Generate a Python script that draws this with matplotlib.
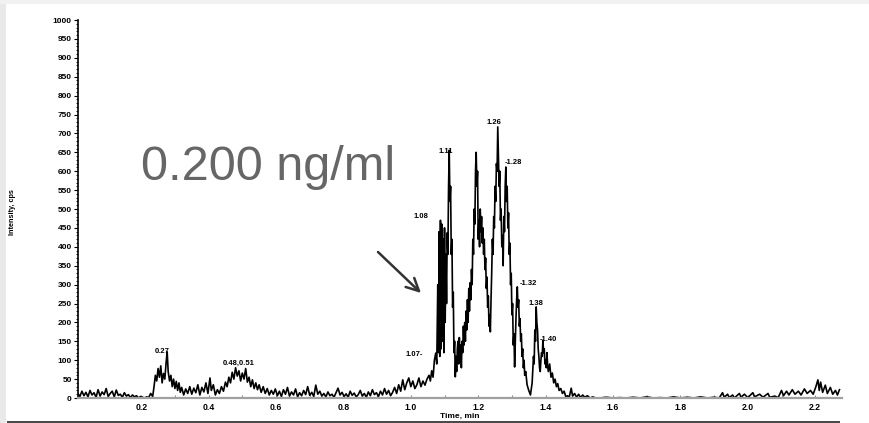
import matplotlib
matplotlib.use('Agg')
import matplotlib.pyplot as plt
from matplotlib.patches import Rectangle
from matplotlib.ticker import MultipleLocator

plt.rcParams['font.family'] = ['Liberation Sans', 'DejaVu Sans']

# ---- chromatogram data (time, min ; intensity, cps) ----
seg_start = [(0.012, 12), (0.018, 4), (0.024, 18), (0.030, 6), (0.036, 15), (0.042, 3),
             (0.048, 20), (0.054, 8), (0.060, 14), (0.066, 2), (0.072, 22), (0.078, 5),
             (0.084, 16), (0.090, 9), (0.096, 25), (0.102, 4), (0.108, 12), (0.114, 18),
             (0.120, 3), (0.126, 21), (0.132, 7), (0.138, 10), (0.144, 2), (0.150, 14),
             (0.156, 5), (0.162, 9), (0.168, 1), (0.174, 8), (0.180, 3), (0.186, 6),
             (0.192, 0), (0.198, 4), (0.204, 2), (0.210, 0), (0.216, 3), (0.222, 1),
             (0.228, 12), (0.234, 4)]
seg_027 = [(0.238, 30), (0.242, 60), (0.246, 45), (0.250, 78), (0.254, 55), (0.258, 85),
           (0.262, 40), (0.266, 65), (0.270, 50), (0.274, 95), (0.277, 122), (0.280, 70),
           (0.284, 45), (0.288, 60), (0.292, 30), (0.296, 50), (0.300, 25), (0.304, 44),
           (0.308, 20), (0.312, 40), (0.316, 15), (0.320, 28)]
seg_mid1 = [(0.326, 8), (0.332, 24), (0.338, 12), (0.344, 30), (0.350, 10), (0.356, 26),
            (0.362, 14), (0.368, 35), (0.374, 8), (0.380, 28), (0.386, 16), (0.392, 40),
            (0.398, 12), (0.404, 53), (0.408, 20), (0.414, 35), (0.420, 8), (0.426, 22),
            (0.432, 12), (0.438, 30), (0.444, 18), (0.450, 42)]
seg_048 = [(0.455, 30), (0.460, 55), (0.465, 40), (0.470, 68), (0.475, 50), (0.480, 80),
           (0.485, 58), (0.490, 72), (0.495, 45), (0.500, 66), (0.505, 50), (0.510, 78),
           (0.515, 42), (0.520, 55), (0.525, 30), (0.530, 48), (0.535, 25), (0.540, 40),
           (0.545, 22), (0.550, 35), (0.556, 15), (0.562, 30), (0.568, 12), (0.574, 25),
           (0.580, 8), (0.586, 20), (0.592, 10), (0.598, 24)]
seg_mid2 = [(0.604, 6), (0.610, 18), (0.616, 4), (0.622, 22), (0.628, 10), (0.634, 28),
            (0.640, 5), (0.646, 16), (0.652, 8), (0.658, 24), (0.664, 3), (0.670, 14),
            (0.676, 6), (0.682, 20), (0.688, 9), (0.694, 30), (0.700, 7), (0.706, 15),
            (0.712, 4), (0.718, 34), (0.724, 10), (0.730, 18), (0.736, 5), (0.742, 12),
            (0.748, 3), (0.754, 16), (0.760, 6), (0.766, 10), (0.772, 2), (0.778, 14),
            (0.784, 26), (0.790, 8), (0.796, 15), (0.802, 4), (0.808, 11), (0.814, 2),
            (0.820, 18), (0.826, 7), (0.832, 13), (0.838, 3), (0.844, 9), (0.850, 20),
            (0.856, 5), (0.862, 12), (0.868, 2), (0.874, 16), (0.880, 6), (0.886, 22),
            (0.892, 9), (0.898, 14), (0.904, 4), (0.910, 18), (0.916, 8), (0.922, 25),
            (0.928, 10), (0.934, 20), (0.940, 6), (0.946, 15)]
seg_rise = [(0.952, 28), (0.958, 12), (0.964, 35), (0.970, 18), (0.976, 48), (0.982, 22),
            (0.988, 40), (0.994, 53), (1.000, 30), (1.006, 45), (1.012, 25), (1.018, 35),
            (1.024, 53), (1.030, 30), (1.036, 45), (1.042, 34), (1.048, 50), (1.054, 60),
            (1.058, 45), (1.062, 72), (1.066, 55), (1.070, 100), (1.074, 119), (1.077, 90)]
seg_108 = [(1.080, 300), (1.082, 120), (1.084, 440), (1.086, 110), (1.088, 470), (1.090, 130),
           (1.092, 460), (1.094, 150), (1.096, 420), (1.098, 120), (1.100, 450), (1.102, 200),
           (1.104, 380), (1.106, 250), (1.108, 437), (1.110, 380), (1.112, 560), (1.114, 655),
           (1.116, 520), (1.118, 560), (1.120, 380), (1.122, 420), (1.124, 240), (1.126, 280),
           (1.128, 120), (1.130, 150), (1.132, 56), (1.134, 110), (1.136, 70), (1.138, 130)]
seg_119_128 = [(1.140, 150), (1.142, 90), (1.144, 160), (1.146, 100), (1.148, 140), (1.150, 80),
               (1.152, 150), (1.154, 120), (1.156, 190), (1.158, 140), (1.160, 200), (1.162, 150),
               (1.164, 230), (1.166, 180), (1.168, 260), (1.170, 200), (1.172, 290), (1.174, 230),
               (1.176, 305), (1.178, 260), (1.180, 340), (1.182, 300), (1.184, 420), (1.186, 380),
               (1.188, 500), (1.190, 460), (1.192, 600), (1.194, 650), (1.196, 560), (1.198, 600),
               (1.200, 420), (1.202, 470), (1.204, 400), (1.206, 500), (1.208, 440), (1.210, 480),
               (1.212, 410), (1.214, 450), (1.216, 380), (1.218, 420), (1.220, 340), (1.222, 370),
               (1.224, 290), (1.226, 320), (1.228, 240), (1.230, 270), (1.232, 190), (1.234, 220),
               (1.236, 175), (1.238, 260), (1.240, 330), (1.242, 420), (1.244, 380), (1.246, 480),
               (1.248, 450), (1.250, 560), (1.252, 520), (1.254, 620), (1.256, 600), (1.258, 717),
               (1.260, 640), (1.262, 560), (1.264, 600), (1.266, 470), (1.268, 500), (1.270, 400),
               (1.272, 430), (1.274, 350), (1.276, 480), (1.278, 440), (1.280, 560), (1.282, 611),
               (1.284, 520), (1.286, 560), (1.288, 450), (1.290, 490), (1.292, 380), (1.294, 410),
               (1.296, 300), (1.298, 330), (1.300, 220), (1.302, 250), (1.304, 140), (1.306, 170),
               (1.308, 82), (1.310, 150), (1.312, 210), (1.314, 260), (1.316, 294), (1.318, 240),
               (1.320, 260), (1.322, 190), (1.324, 210), (1.326, 150), (1.328, 170), (1.330, 110),
               (1.332, 130), (1.334, 80), (1.336, 100), (1.338, 60)]
seg_138_150 = [(1.341, 70), (1.345, 35), (1.350, 20), (1.355, 8), (1.360, 40),
               (1.364, 110), (1.366, 90), (1.368, 180), (1.370, 150), (1.372, 241), (1.374, 200),
               (1.376, 180), (1.378, 130), (1.380, 110), (1.382, 80), (1.384, 70), (1.386, 100),
               (1.388, 120), (1.390, 110), (1.392, 153), (1.394, 120), (1.396, 130), (1.398, 90),
               (1.400, 100), (1.402, 80), (1.404, 120), (1.406, 85), (1.408, 70), (1.412, 90),
               (1.416, 55), (1.420, 66), (1.424, 40), (1.428, 50), (1.432, 30),
               (1.436, 38), (1.440, 20), (1.445, 25), (1.450, 12), (1.455, 18), (1.460, 3),
               (1.465, 6), (1.470, 2), (1.476, 26), (1.480, 5), (1.486, 12), (1.492, 2),
               (1.498, 10), (1.504, 1), (1.510, 8), (1.516, 2), (1.524, 6), (1.532, 0),
               (1.540, 3), (1.548, 0)]
seg_tail = [(1.56, 0), (1.58, 2), (1.60, 0), (1.62, 1), (1.64, 0), (1.66, 2), (1.68, 0),
            (1.70, 3), (1.72, 0), (1.74, 1), (1.76, 0), (1.78, 3), (1.80, 0), (1.82, 2),
            (1.84, 0), (1.86, 3), (1.88, 0), (1.90, 2), (1.915, 0), (1.925, 14), (1.930, 2),
            (1.940, 10), (1.945, 1), (1.955, 8), (1.960, 0), (1.975, 12), (1.980, 2),
            (1.990, 10), (2.000, 1), (2.015, 14), (2.020, 3), (2.035, 10), (2.045, 2),
            (2.060, 12), (2.065, 2), (2.080, 5), (2.090, 1), (2.100, 20), (2.106, 6),
            (2.115, 18), (2.122, 8), (2.132, 22), (2.140, 10), (2.150, 18), (2.158, 8),
            (2.168, 24), (2.176, 12), (2.186, 20), (2.194, 10), (2.202, 30), (2.208, 48),
            (2.212, 20), (2.216, 42), (2.222, 15), (2.230, 34), (2.236, 12), (2.245, 28),
            (2.252, 10), (2.260, 20), (2.266, 8), (2.272, 22)]

x_ticks = [0.2, 0.4, 0.6, 0.8, 1.0, 1.2, 1.4, 1.6, 1.8, 2.0, 2.2]
x_tick_labels = ["0.2", "0.4", "0.6", "0.8", "1.0", "1.2", "1.4", "1.6", "1.8", "2.0", "2.2"]
y_ticks = list(range(0, 1001, 50))

peak_labels = ["0.27", "0.48,0.51", "1.07-", "1.08", "1.11", "1.26", "-1.28", "-1.32", "1.38", "-1.40"]
peak_label_t = [0.241, 0.443, 0.983, 1.007, 1.081, 1.226, 1.280, 1.324, 1.348, 1.383]
peak_label_y = [122, 93, 116, 481, 651, 730, 622, 304, 251, 156]

# ---- assemble trace ----
points = (seg_start + seg_027 + seg_mid1 + seg_048 + seg_mid2 + seg_rise + seg_108
          + seg_119_128 + seg_138_150 + seg_tail)
time_min = [p[0] for p in points]
intensity = [p[1] for p in points]

W, H = 869, 423
fig = plt.figure(figsize=(W / 100, H / 100), dpi=100)
fig.patch.set_facecolor('white')
# slide frame decorations
fig.patches.append(Rectangle((0, 0), 6 / W, 1, transform=fig.transFigure,
                             facecolor='#e9e9e9', edgecolor='none', zorder=0))
fig.patches.append(Rectangle((0, 1 - 4 / H), 1, 4 / H, transform=fig.transFigure,
                             facecolor='#f1f1f1', edgecolor='none', zorder=0))
fig.patches.append(Rectangle((7 / W, 0), 833 / W, 2.5 / H, transform=fig.transFigure,
                             facecolor='#4a4a4a', edgecolor='none', zorder=0))

ax = fig.add_axes([78 / W, 25 / H, 764 / W, 378 / H])
ax.set_facecolor('white')
ax.plot(time_min, intensity, color='black', lw=1.2, zorder=2)
ax.set_xlim(0.0124, 2.2795)
ax.set_ylim(0, 1000)

for s in ['top', 'right']:
    ax.spines[s].set_visible(False)
ax.spines['left'].set_color('black')
ax.spines['left'].set_linewidth(1.2)
ax.spines['bottom'].set_color('#a0a0a0')
ax.spines['bottom'].set_linewidth(1.6)
ax.spines['bottom'].set_zorder(3)

ax.set_yticks(y_ticks)
ax.set_yticklabels([str(v) for v in y_ticks])
ax.yaxis.set_minor_locator(MultipleLocator(10))
ax.tick_params(axis='y', which='major', length=3, width=0.8, labelsize=6, pad=1.5, direction='out')
ax.tick_params(axis='y', which='minor', length=1.6, width=0.6, direction='out')

ax.set_xticks(x_ticks)
ax.set_xticklabels(x_tick_labels)
ax.xaxis.set_minor_locator(MultipleLocator(0.1))
ax.tick_params(axis='x', which='both', length=2, width=0.8, color='#888888', direction='in',
               labelsize=6.2, pad=3.5)
for lab in ax.get_yticklabels() + ax.get_xticklabels():
    lab.set_fontweight('bold')

for txt, tt, yy in zip(peak_labels, peak_label_t, peak_label_y):
    ax.text(tt, yy, txt, fontsize=5.5, fontweight='bold', ha='left', va='center', zorder=4)

fig.text(13 / W, 1 - 212 / H, 'Intensity, cps', rotation=90, fontsize=5.2, fontweight='bold',
         ha='center', va='center')
fig.text(460 / W, 1 - 416 / H, 'Time, min', fontsize=6, fontweight='bold', ha='center', va='center')

fig.text(141 / W, 1 - 180 / H, '0.200 ng/ml', fontsize=35, color='#666666', ha='left', va='baseline')

ax.annotate('', xy=(421, H - 293), xytext=(378, H - 252), xycoords='figure pixels',
            textcoords='figure pixels',
            arrowprops=dict(arrowstyle='->,head_length=0.9,head_width=0.45', color='#333333',
                            lw=1.8, shrinkA=0, shrinkB=0))

fig.savefig('out.png', dpi=100, facecolor=fig.get_facecolor())
